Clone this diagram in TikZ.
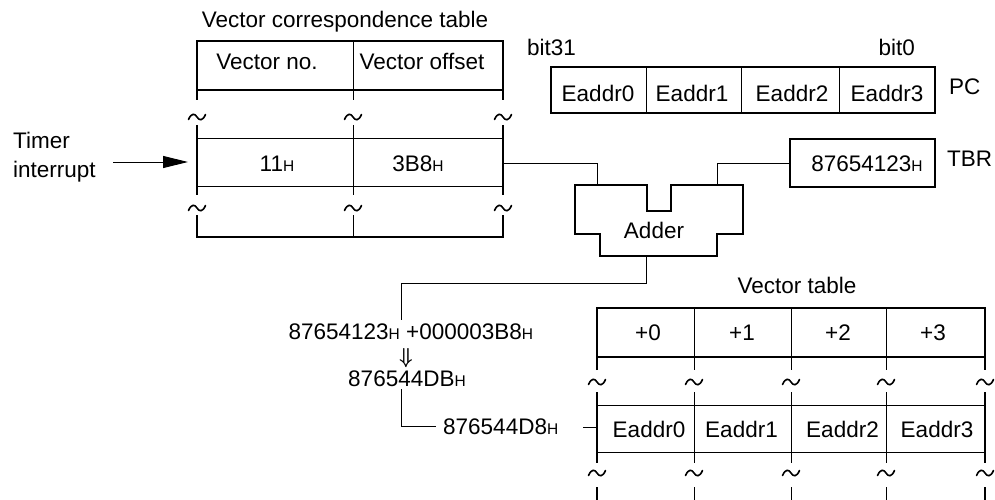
\documentclass[tikz,border=0pt]{standalone}
\usepackage{fontspec}
\usepackage{graphicx}
\setmainfont{Liberation Sans}
\usetikzlibrary{arrows.meta}
\newcommand\hsub{{\fontsize{15.5pt}{16pt}\selectfont H}}
\newcommand\fatdarr{\resizebox{!}{15pt}{\rlap{$\Downarrow$}\kern0.3pt$\Downarrow$}}
\begin{document}
\begin{tikzpicture}[x=1pt,y=-1pt,
  font=\fontsize{22.5pt}{27pt}\selectfont,
  thickln/.style={line width=2.4pt},
  thinln/.style={line width=0.9pt},
  conn/.style={line width=0.9pt},
  lbl/.style={inner sep=0pt, anchor=base},
  lblw/.style={inner sep=0pt, anchor=base west},
  lble/.style={inner sep=0pt, anchor=base east},
  tld/.pic={\draw[line width=1.6pt, line cap=round] (-8.5,2.5) .. controls (-5.5,-4.5) and (-2,-3.5) .. (0,0) .. controls (2,3.5) and (5.5,4.5) .. (8.5,-2.5);}
]
\useasboundingbox (0,0) rectangle (995,500);

% ---------- Vector correspondence table ----------
\node[lbl] (vcttitle) at (345,28) {Vector correspondence table};
\node[lbl] (vno) at (267,70) {Vector no.};
\node[lbl] (voff) at (422,70) {Vector offset};
\node[lbl] (v11) at (277,171) {11\hsub};
\node[lbl] (v3b8) at (418,171) {3B8\hsub};
% outline
\draw[thickln] (197,100) -- (197,41) -- (503,41) -- (503,100);
\draw[thickln] (197,90) -- (503,90);
\draw[thinln] (353,41) -- (353,100);
\draw[thickln] (197,125) -- (197,195);
\draw[thickln] (503,125) -- (503,195);
\draw[thinln] (353,125) -- (353,195);
\draw[thinln] (197,138) -- (503,138);
\draw[thinln] (197,186) -- (503,186);
\draw[thickln] (197,215) -- (197,237) -- (503,237) -- (503,215);
\draw[thinln] (353,215) -- (353,237);
\foreach \xx in {197,353,503} {
  \pic at (\xx,117) {tld};
  \pic at (\xx,208) {tld};
}
\coordinate (rowR) at (503,163);

% ---------- Timer interrupt ----------
\node[lblw] (timer1) at (13,148) {Timer};
\node[lblw] (timer2) at (13,177) {interrupt};
\coordinate (arrS) at (113,162);
\coordinate (arrE) at (188,162);
\draw[conn, -{Triangle[length=25pt,width=12pt]}] (arrS) -- (arrE);

% ---------- PC register ----------
\node[lblw] (bit31) at (527,56) {bit31};
\node[lble] (bit0) at (915,56) {bit0};
\node[draw, thickln, minimum width=384pt, minimum height=46pt, inner sep=0pt] (pcbox) at (743,90) {};
\draw[thinln] (646,67) -- (646,113);
\draw[thinln] (741,67) -- (741,113);
\draw[thinln] (839,67) -- (839,113);
\node[lbl] (pc0) at (598,102) {Eaddr0};
\node[lbl] (pc1) at (692,102) {Eaddr1};
\node[lbl] (pc2) at (792,102) {Eaddr2};
\node[lbl] (pc3) at (887,102) {Eaddr3};
\node[lblw] (pclabel) at (949,95) {PC};

% ---------- TBR ----------
\node[draw, thickln, minimum width=145pt, minimum height=48pt, inner sep=0pt] (tbr) at (862.5,163) {};
\node[lbl] (tbrval) at (867,171) {87654123\hsub};
\node[lblw] (tbrlabel) at (947,166) {TBR};

% ---------- Adder ----------
\draw[thickln] (575,185) -- (647,185) -- (647,211) -- (671,211) -- (671,185) -- (743,185)
  -- (743,234) -- (717,234) -- (717,256) -- (600,256) -- (600,234) -- (575,234) -- cycle;
\node[lbl] (adder) at (654,238) {Adder};
\coordinate (addL) at (597,185);
\coordinate (addR) at (717,185);
\coordinate (addO) at (646,256);
\coordinate (bend1) at (646,283);
\draw[conn] (rowR) -| (addL);
\draw[conn] (tbr.west) -| (addR);

% ---------- Calculation ----------
\node[lble] (suma) at (400,339) {87654123\hsub};
\node[lblw] (sumb) at (406,339) {+000003B8\hsub};
\node[inner sep=0pt, anchor=base] (darr) at (406,363) {\fatdarr};
\node[lbl] (sumdb) at (407,386) {876544DB\hsub};
\node[inner xsep=7pt, inner ysep=0pt, anchor=base west] (sumd8) at (436,434) {876544D8\hsub};
\coordinate (sumtop) at (401,320);
\coordinate (dbbot) at (401,389);
\draw[conn] (addO) -- (bend1) -| (sumtop);
\draw[conn] (dbbot) |- (sumd8.west);
\coordinate (tickS) at (583,427);
\coordinate (vtL) at (597,427);
\draw[conn] (tickS) -- (vtL);

% ---------- Vector table ----------
\node[lbl] (vttitle) at (797,293) {Vector table};
\node[lbl] (h0) at (648,340) {+0};
\node[lbl] (h1) at (742,340) {+1};
\node[lbl] (h2) at (838,340) {+2};
\node[lbl] (h3) at (933,340) {+3};
\node[lbl] (e0) at (649,437) {Eaddr0};
\node[lbl] (e1) at (741.5,437) {Eaddr1};
\node[lbl] (e2) at (842.5,437) {Eaddr2};
\node[lbl] (e3) at (937,437) {Eaddr3};
\draw[thickln] (597,370) -- (597,308) -- (985,308) -- (985,370);
\draw[thickln] (597,357) -- (985,357);
\foreach \xx in {694,791,886} {
  \draw[thinln] (\xx,308) -- (\xx,370);
  \draw[thinln] (\xx,392) -- (\xx,463);
  \draw[thinln] (\xx,487) -- (\xx,500);
}
\foreach \xx in {597,985} {
  \draw[thickln] (\xx,392) -- (\xx,463);
  \draw[thickln] (\xx,487) -- (\xx,500);
}
\draw[thinln] (597,405) -- (985,405);
\draw[thinln] (597,452) -- (985,452);
\foreach \xx in {597,694,791,886,985} {
  \pic at (\xx,382) {tld};
  \pic at (\xx,473) {tld};
}
\end{tikzpicture}
\end{document}
